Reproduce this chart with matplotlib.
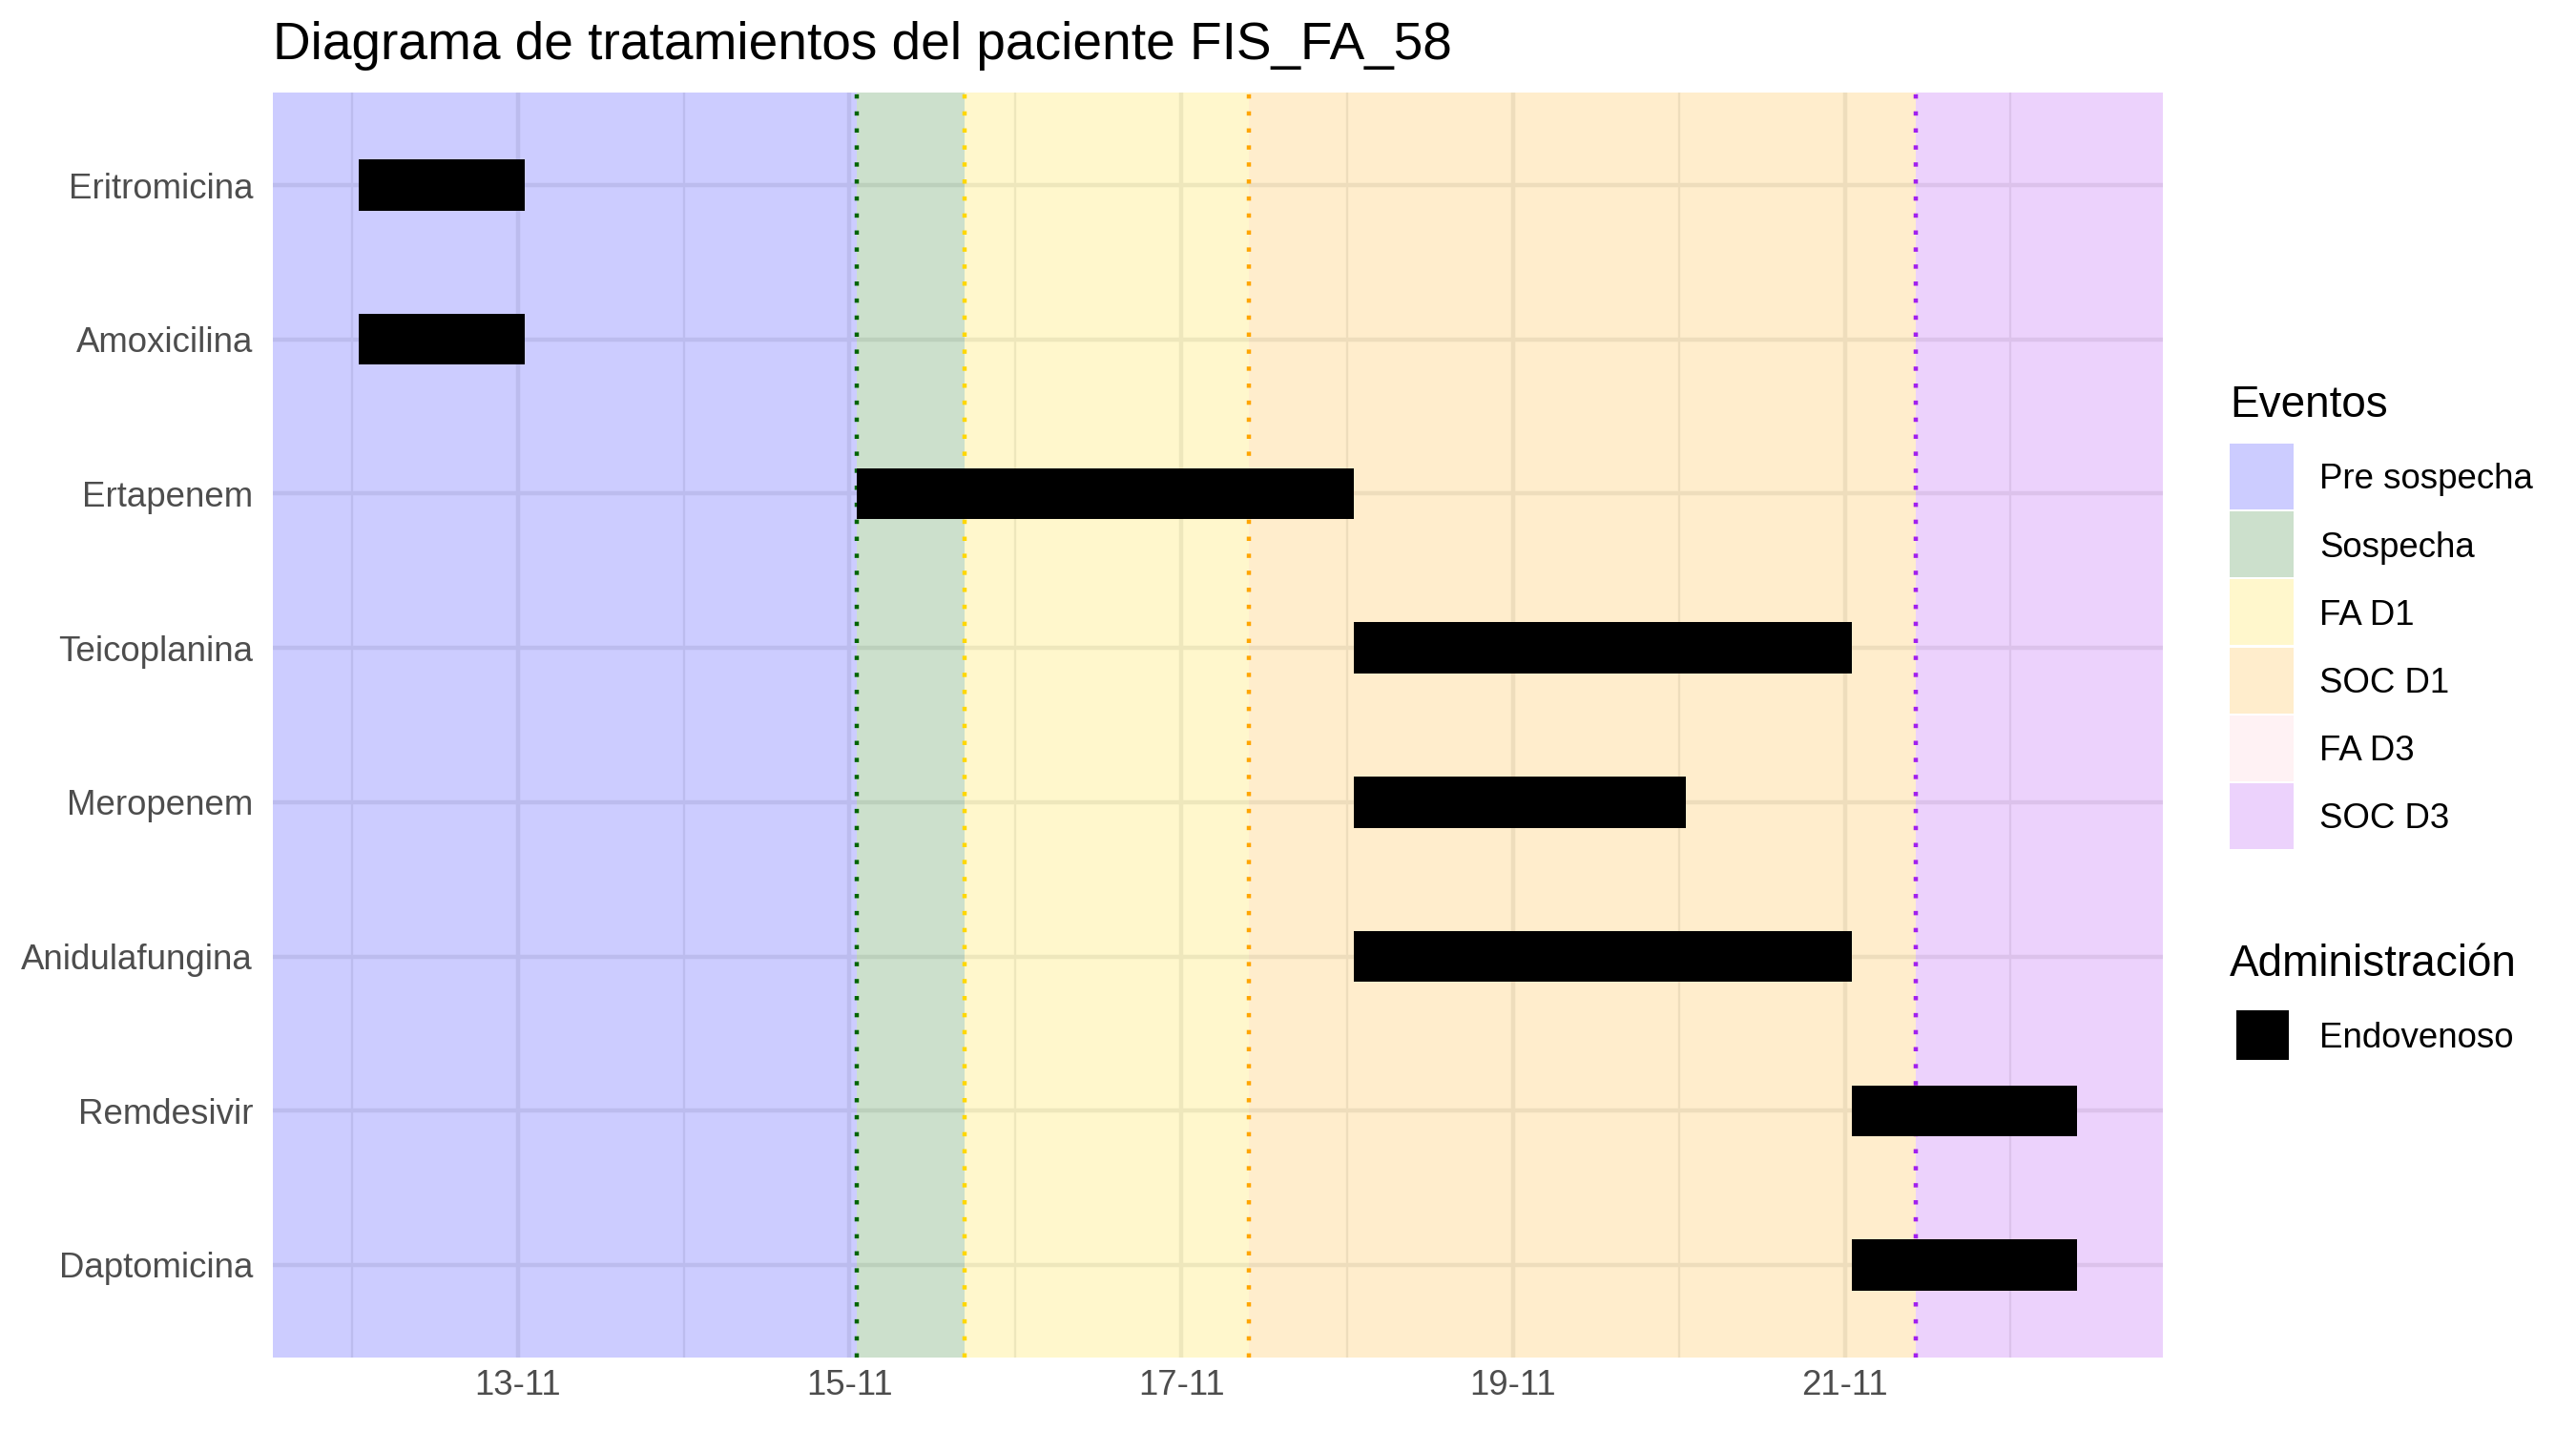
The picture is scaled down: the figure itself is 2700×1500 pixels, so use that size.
import pandas as pd
import matplotlib.pyplot as plt
import matplotlib.dates as mdates
from matplotlib.patches import Rectangle

plt.rcParams["font.family"] = ["Liberation Sans", "DejaVu Sans"]

# =====================================================
# DATA
# =====================================================

farmacos = ["Eritromicina", "Amoxicilina", "Ertapenem", "Teicoplanina",
            "Meropenem", "Anidulafungina", "Remdesivir", "Daptomicina"]

inicio = ["2020-11-12 01:00", "2020-11-12 01:00", "2020-11-15 01:00",
          "2020-11-18 01:00", "2020-11-18 01:00", "2020-11-18 01:00",
          "2020-11-21 01:00", "2020-11-21 01:00"]

fin = ["2020-11-13 01:00", "2020-11-13 01:00", "2020-11-18 01:00",
       "2020-11-21 01:00", "2020-11-20 01:00", "2020-11-21 01:00",
       "2020-11-22 09:36", "2020-11-22 09:36"]

administracion = ["Endovenoso"] * len(farmacos)

eventos = ["Pre sospecha", "Sospecha", "FA D1", "SOC D1", "FA D3", "SOC D3"]

# None = desde el inicio del grafico
evento_inicio = [None, "2020-11-15 01:00", "2020-11-15 16:35",
                 "2020-11-17 09:45", "2020-11-21 10:15", "2020-11-21 10:15"]

colores_eventos = ["#0000FF", "#006400", "#FFD700", "#FFA500", "#FFC0CB", "#A020F0"]

# =====================================================
# PREPARE
# =====================================================

ini = mdates.date2num(pd.to_datetime(inicio))
end = mdates.date2num(pd.to_datetime(fin))

lo, hi = ini.min(), end.max()
pad = 0.05 * (hi - lo)
xmin, xmax = lo - pad, hi + pad

ev = [xmin if e is None else mdates.date2num(pd.Timestamp(e)) for e in evento_inicio]
ev_end = ev[1:] + [xmax]

# =====================================================
# FIGURE
# =====================================================

W, H = 2700, 1500
fig = plt.figure(figsize=(9, 5), dpi=300)
ax = fig.add_axes([286 / W, 77 / H, 1981 / W, 1326 / H])

# grid first (under the shaded periods)
ax.set_axisbelow(True)
ax.xaxis.set_major_locator(mdates.DayLocator(bymonthday=[13, 15, 17, 19, 21]))
ax.xaxis.set_minor_locator(mdates.DayLocator())
ax.xaxis.set_major_formatter(mdates.DateFormatter("%d-%m"))
ax.grid(True, which="major", color="#EBEBEB", linewidth=1.07)
ax.grid(True, which="minor", axis="x", color="#EBEBEB", linewidth=0.53)

# shaded periods
for a, b, c in zip(ev, ev_end, colores_eventos):
    if b > a:
        ax.axvspan(a, b, color=c, alpha=0.2, linewidth=0, zorder=1)

# dotted event lines
for a, c in zip(ev[1:], colores_eventos[1:]):
    ax.axvline(a, color=c, linewidth=1.07, linestyle=(0, (1, 3)),
               dash_capstyle="butt", zorder=2)

# treatment bars
y = list(range(len(farmacos)))
ax.barh(y, end - ini, left=ini, height=0.33, color="black", zorder=3)

ax.set_yticks(y)
ax.set_yticklabels(farmacos)
ax.set_ylim(len(farmacos) - 0.4, -0.6)
ax.set_xlim(xmin, xmax)

for s in ax.spines.values():
    s.set_visible(False)
ax.tick_params(axis="both", which="both", length=0, labelsize=8.8, labelcolor="#4D4D4D")
ax.tick_params(axis="y", pad=5)
ax.tick_params(axis="x", pad=3)

fig.text(286 / W, 1 - 62 / H, "Diagrama de tratamientos del paciente FIS_FA_58",
         fontsize=13.2, ha="left", va="baseline")

# =====================================================
# LEGENDS (drawn by hand, ggplot style)
# =====================================================

def key(x, top, w, h, color, alpha=1.0):
    fig.add_artist(Rectangle((x / W, 1 - (top + h) / H), w / W, h / H,
                             transform=fig.transFigure, facecolor=color,
                             alpha=alpha, linewidth=0))

fig.text(2337 / W, 1 - 437 / H, "Eventos", fontsize=11, ha="left", va="baseline")
for i, (lab, c) in enumerate(zip(eventos, colores_eventos)):
    top = 465 + 71.2 * i
    key(2337, top, 67, 69, c, alpha=0.2)
    fig.text(2431 / W, 1 - (top + 34.5 + 13) / H, lab, fontsize=8.8,
             ha="left", va="baseline")

fig.text(2337 / W, 1 - 1023 / H, "Administración", fontsize=11, ha="left", va="baseline")
key(2344, 1059, 55, 52, "black")
fig.text(2431 / W, 1 - (1085 + 13) / H, administracion[0], fontsize=8.8,
         ha="left", va="baseline")

fig.savefig("out.png", dpi=300)
